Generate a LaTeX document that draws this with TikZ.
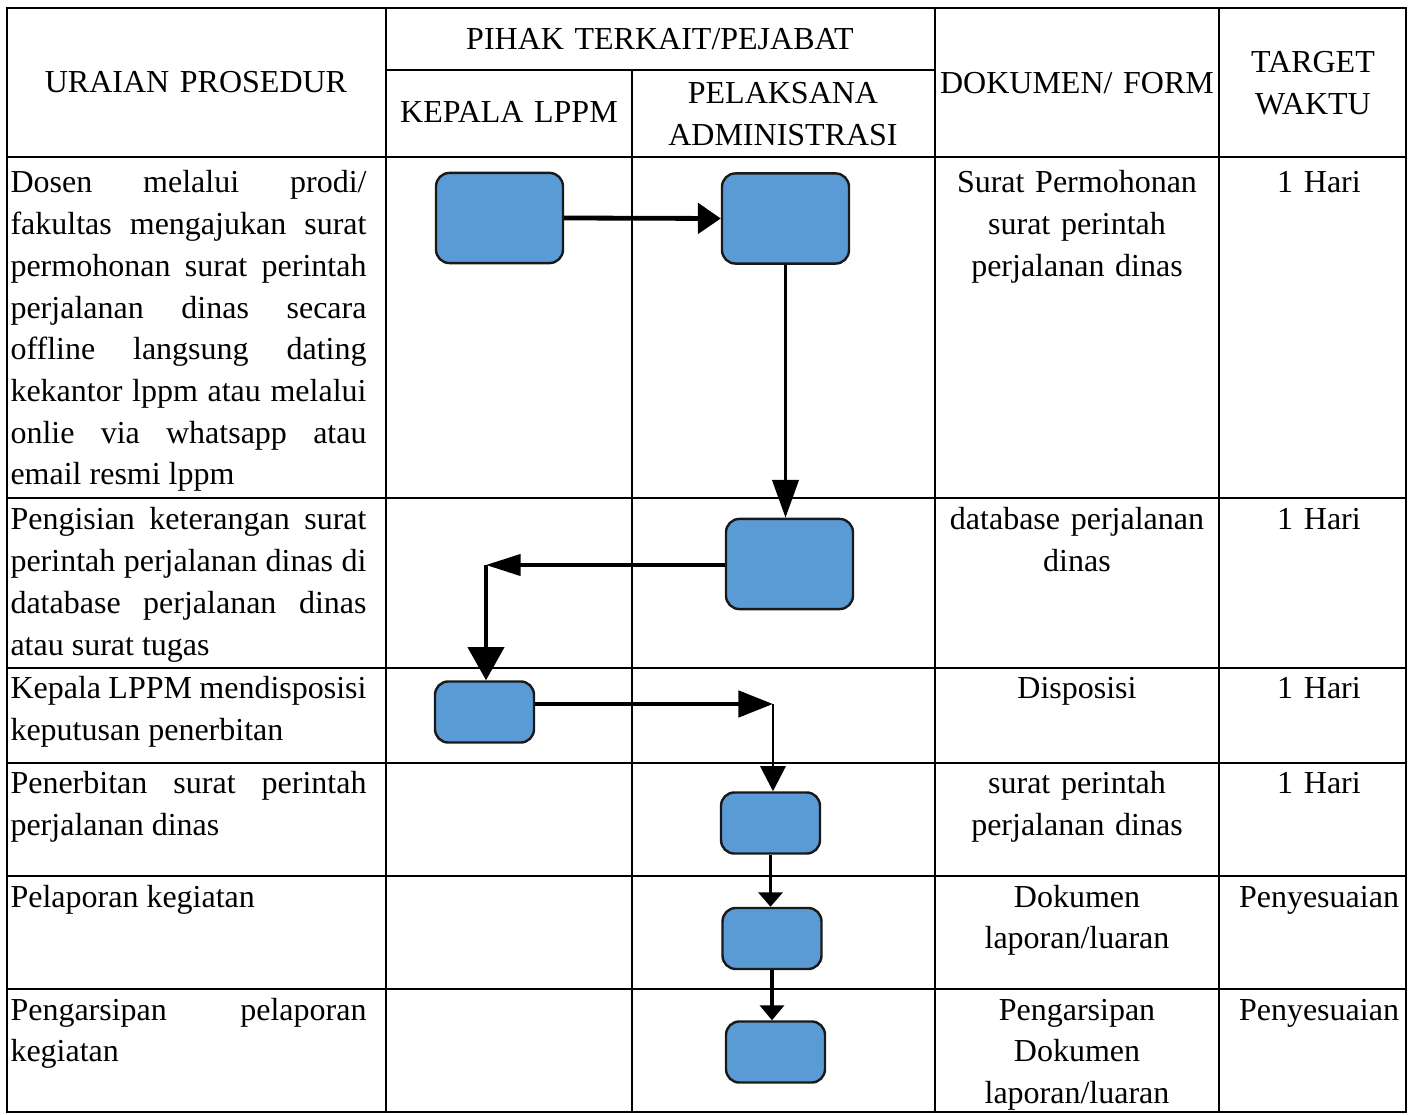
\documentclass[tikz,border=0pt]{standalone}
\usepackage{fontspec}
\setmainfont{Liberation Serif}
\usetikzlibrary{arrows.meta}
\definecolor{boxblue}{HTML}{5B9BD5}
\tolerance=10000
\hbadness=10000

\begin{document}
\begin{tikzpicture}[x=0.375pt,y=-0.375pt,font={\fontsize{12}{15.64}\selectfont}]
  \tikzstyle{rule}=[line width=1.1pt]
  \tikzstyle{procbox}=[draw=black!90,line width=0.9pt,fill=boxblue,rounded corners=5pt,inner sep=0pt]
  \tikzstyle{bigbox}=[procbox,minimum width=47.6pt,minimum height=33.8pt]
  \tikzstyle{smallbox}=[procbox,minimum width=37.1pt,minimum height=22.9pt]
  \tikzstyle{cell}=[anchor=base,inner sep=0pt,text width=160pt,align=center]
  \tikzstyle{desc}=[anchor=base west,inner sep=0pt,text width=133.5pt,align=justify]
  \tikzstyle{flow}=[line width=1.3pt]
  \tikzset{head/.style 2 args={-{Triangle[length=#1pt,width=#2pt]}}}
  \useasboundingbox (0,0) rectangle (1414,1115);

  \draw[rule] (7,8) rectangle (1406,1112);
  \foreach \y in {157,498,668,763,876,989} \draw[rule] (7,\y) -- (1406,\y);
  \foreach \x in {386,935,1219} \draw[rule] (\x,8) -- (\x,1112);
  \draw[rule] (386,70) -- (935,70);
  \draw[rule] (632,70) -- (632,1112);

  \node[cell] (hproc) at (196,93) {URAIAN PROSEDUR};
  \node[cell] (hpihak) at (660,50) {PIHAK TERKAIT/PEJABAT};
  \node[cell] (hkepala) at (509,123) {KEPALA LPPM};
  \node[cell] (hadm) at (783,104) {PELAKSANA\\ADMINISTRASI};
  \node[cell] (hdok) at (1077,94) {DOKUMEN/ FORM};
  \node[cell] (hwaktu) at (1313,73) {TARGET\\WAKTU};

  \node[desc] (u1) at (10,193) {Dosen melalui prodi/\linebreak fakultas mengajukan surat\linebreak permohonan surat perintah\linebreak perjalanan dinas secara\linebreak offline langsung dating\linebreak kekantor lppm atau melalui\linebreak onlie via whatsapp atau\linebreak email resmi lppm};
  \node[desc] (u2) at (10,530) {Pengisian keterangan surat\linebreak perintah perjalanan dinas di\linebreak database perjalanan dinas\linebreak atau surat tugas};
  \node[desc] (u3) at (10,699) {Kepala LPPM mendisposisi\linebreak keputusan penerbitan};
  \node[desc] (u4) at (10,794) {Penerbitan surat perintah\linebreak perjalanan dinas};
  \node[desc] (u5) at (10,907) {Pelaporan kegiatan};
  \node[desc] (u6) at (10,1020) {Pengarsipan pelaporan\linebreak kegiatan};

  \node[cell] (d1) at (1077,193) {Surat Permohonan\\surat perintah\\perjalanan dinas};
  \node[cell] (d2) at (1077,530) {database perjalanan\\dinas};
  \node[cell] (d3) at (1077,699) {Disposisi};
  \node[cell] (d4) at (1077,794) {surat perintah\\perjalanan dinas};
  \node[cell] (d5) at (1077,907) {Dokumen\\laporan/luaran};
  \node[cell] (d6) at (1077,1020) {Pengarsipan\\Dokumen\\laporan/luaran};

  \node[cell] (w1) at (1319,193) {1 Hari};
  \node[cell] (w2) at (1319,530) {1 Hari};
  \node[cell] (w3) at (1319,699) {1 Hari};
  \node[cell] (w4) at (1319,794) {1 Hari};
  \node[cell] (w5) at (1319,907) {Penyesuaian};
  \node[cell] (w6) at (1319,1020) {Penyesuaian};

  \node[bigbox] (A) at (499.5,218) {};
  \node[bigbox] (B) at (785.5,218.5) {};
  \node[bigbox] (C) at (789.5,564) {};
  \node[smallbox] (D) at (484.5,712) {};
  \node[smallbox] (E) at (770.5,823) {};
  \node[smallbox] (F) at (772,938.5) {};
  \node[smallbox] (G) at (775.5,1052) {};
  \coordinate (c1) at (486,565);
  \coordinate (c2) at (773,704);

  \draw[flow,line width=1.8pt,head={8.6}{11.3}] (A.east) -- (B.west);
  \draw[flow,line width=1.4pt,head={14.2}{9.8}] (B.south) -- (B.south |- C.north);
  \draw[flow,line width=1.2pt,head={13}{8}] (C.west |- c1) -- (c1);
  \draw[flow,line width=1.5pt,head={12.4}{13.5}] (c1) -- (c1 |- D.north);
  \draw[flow,line width=1.7pt,head={13}{9.8}] (D.east |- c2) -- (c2);
  \draw[flow,line width=1.1pt,head={9.4}{9.4}] (c2) -- (c2 |- E.north);
  \draw[flow,head={5.4}{9}] (E.south) -- (E.south |- F.north);
  \draw[flow,head={5.6}{9}] (F.south) -- (F.south |- G.north);
\end{tikzpicture}
\end{document}
